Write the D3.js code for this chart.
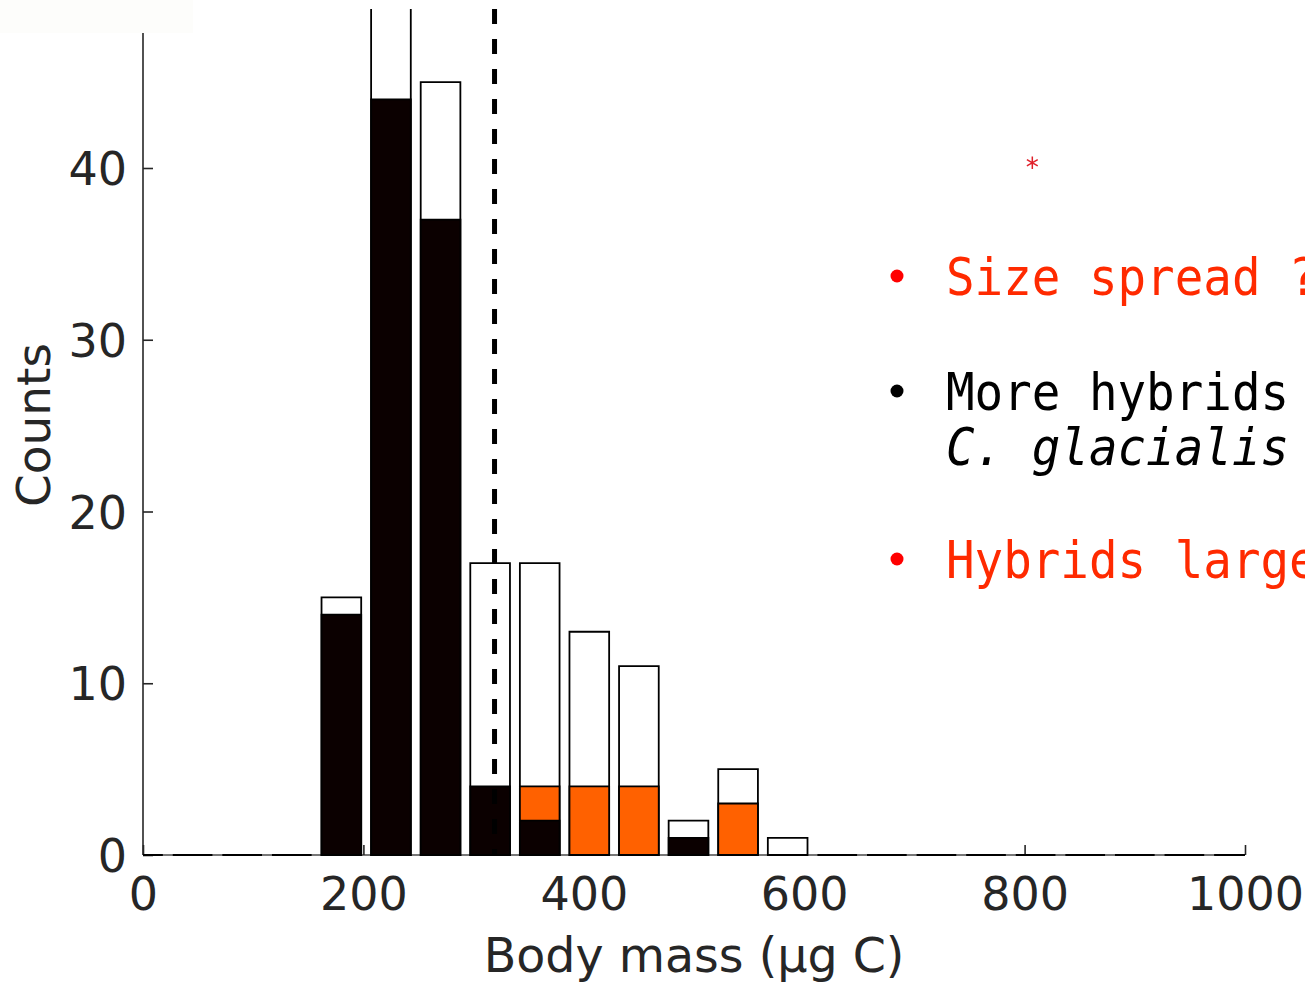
<!DOCTYPE html>
<html>
<head>
<meta charset="utf-8">
<script src="https://cdn.jsdelivr.net/npm/d3@7"></script>
<style>
  body { margin: 0; background: #fff; }
  svg { display: block; }
</style>
</head>
<body>
<div id="graph"></div>
<script>
// histogram bins (centre of each bin, µg C)
const binCenters = [0, 45, 90, 135, 180, 225, 270, 315, 360, 405, 450, 495, 540, 585,
                    630, 675, 720, 765, 810, 855, 900, 945, 990];
// all animals per bin (second bin runs off the top of the plot)
const totalCounts = [0, 0, 0, 0, 15, 53, 45, 17, 17, 13, 11, 2, 5, 1,
                     0, 0, 0, 0, 0, 0, 0, 0, 0];
// hybrids per bin (orange)
const hybridCounts = [0, 0, 0, 0, 0, 0, 0, 0, 4, 4, 4, 0, 3, 0,
                      0, 0, 0, 0, 0, 0, 0, 0, 0];
// black part of each bar
const blackCounts = [0, 0, 0, 0, 14, 44, 37, 4, 2, 0, 0, 1, 0, 0,
                     0, 0, 0, 0, 0, 0, 0, 0, 0];
const xTicks = [0, 200, 400, 600, 800, 1000];
const yTicks = [0, 10, 20, 30, 40];
const threshold = 319;          // dashed vertical line
const starPoint = [807, 40.3];  // red asterisk
const notes = [
  {bullet: true,  text: "Size spread ?", color: "#ff2a00", italic: false, line: 0},
  {bullet: true,  text: "More hybrids",  color: "#000000", italic: false, line: 1},
  {bullet: false, text: "C. glacialis",  color: "#000000", italic: true,  line: 2},
  {bullet: true,  text: "Hybrids large", color: "#ff2a00", italic: false, line: 3}
];

const W = 1305, H = 982;
const binWidth = 36;
const axisColor = "#262626";

const svg = d3.select("#graph").append("svg")
  .attr("width", W).attr("height", H);

const x = d3.scaleLinear().domain([0, 1000]).range([143, 1245]);
const y = d3.scaleLinear().domain([0, 40]).range([855, 168]);
const plotTop = 9;

// axes (drawn under the bars)
svg.append("line")
  .attr("x1", x(0)).attr("x2", x(0)).attr("y1", plotTop).attr("y2", y(0))
  .attr("stroke", axisColor).attr("stroke-width", 1.6);
svg.append("line")
  .attr("x1", x(0)).attr("x2", x(1000)).attr("y1", y(0)).attr("y2", y(0))
  .attr("stroke", "#777").attr("stroke-width", 2);

const yAxis = svg.append("g")
  .attr("transform", `translate(${x(0)},0)`)
  .call(d3.axisLeft(y).tickValues(yTicks).tickSizeInner(-10).tickSizeOuter(0).tickPadding(16));
yAxis.select(".domain").remove();

const xAxis = svg.append("g")
  .attr("transform", `translate(0,${y(0)})`)
  .call(d3.axisBottom(x).tickValues(xTicks).tickFormat(d3.format("d"))
    .tickSizeInner(-10).tickSizeOuter(0).tickPadding(22));
xAxis.select(".domain").remove();

svg.selectAll(".tick line").attr("stroke", axisColor).attr("stroke-width", 1.6);
svg.selectAll(".tick text")
  .attr("fill", axisColor)
  .style("font-family", "'DejaVu Sans', sans-serif")
  .style("font-size", "46px");
xAxis.selectAll(".tick text").attr("dy", "0.71em");
yAxis.selectAll(".tick text").attr("dy", "0.36em");

// clip to the axes box
svg.append("clipPath").attr("id", "plotClip")
  .append("rect")
  .attr("x", x(0)).attr("y", plotTop)
  .attr("width", x(1000) - x(0)).attr("height", y(0) - plotTop + 2);

const plot = svg.append("g").attr("clip-path", "url(#plotClip)");

function barPath(c, v) {
  const x0 = x(c - binWidth / 2), x1 = x(c + binWidth / 2);
  const y0 = y(0), y1 = y(v);
  return `M${x0},${y0}H${x1}V${y1}H${x0}Z`;
}

function drawBars(values, fill, cls) {
  plot.selectAll("path." + cls)
    .data(binCenters.map((c, i) => ({c: c, v: values[i]})).filter(d => cls === "total" || d.v > 0))
    .join("path")
      .attr("class", cls)
      .attr("d", d => barPath(d.c, d.v))
      .attr("fill", fill)
      .attr("stroke", "#000")
      .attr("stroke-width", 1.8);
}

drawBars(totalCounts, "#ffffff", "total");
drawBars(hybridCounts, "#ff6100", "hybrid");
drawBars(blackCounts, "#0b0000", "black");

// dashed threshold line
plot.append("line")
  .attr("x1", x(threshold)).attr("x2", x(threshold))
  .attr("y1", plotTop).attr("y2", y(0))
  .attr("stroke", "#000").attr("stroke-width", 5)
  .attr("stroke-dasharray", "15,15");

// red asterisk
const star = d3.symbolAsterisk
  ? d3.symbol().type(d3.symbolAsterisk).size(110)()
  : "M0,-6V6M-5.2,-3L5.2,3M-5.2,3L5.2,-3";
svg.append("path")
  .attr("d", star)
  .attr("transform", `translate(${x(starPoint[0])},${y(starPoint[1])})`)
  .attr("fill", "none").attr("stroke", "#e0202a").attr("stroke-width", 1.5);

// axis labels
svg.append("text")
  .attr("x", 694).attr("y", 972)
  .attr("text-anchor", "middle")
  .attr("fill", axisColor)
  .style("font-family", "'DejaVu Sans', sans-serif")
  .style("font-size", "47.5px")
  .text("Body mass (µg C)");

svg.append("text")
  .attr("transform", "translate(50,425) rotate(-90)")
  .attr("text-anchor", "middle")
  .attr("fill", axisColor)
  .style("font-family", "'DejaVu Sans', sans-serif")
  .style("font-size", "47px")
  .text("Counts");

// side notes
const lineY = [295, 410, 465, 578];
const notesG = svg.append("g");
notes.forEach(n => {
  if (n.bullet) {
    notesG.append("circle")
      .attr("cx", 897).attr("cy", lineY[n.line] - 19).attr("r", 6.5)
      .attr("fill", n.color === "#000000" ? "#000" : "#ff0000");
  }
  notesG.append("text")
    .attr("transform", `translate(946,${lineY[n.line]}) scale(1,1.08)`)
    .attr("fill", n.color)
    .style("font-family", "'DejaVu Sans Mono', monospace")
    .style("font-size", "47.5px")
    .style("font-style", n.italic ? "italic" : "normal")
    .text(n.text);
});

// faint off-white patch in the top-left corner
svg.append("rect")
  .attr("x", 0).attr("y", 0).attr("width", 193).attr("height", 33)
  .attr("fill", "#fdfdfb");
</script>
</body>
</html>
